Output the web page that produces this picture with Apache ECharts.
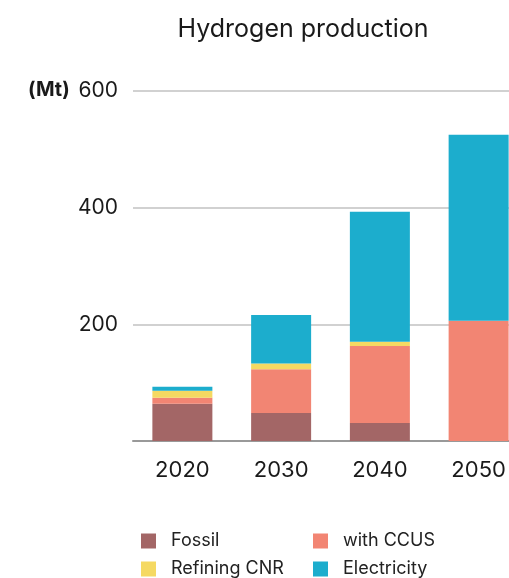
<!DOCTYPE html>
<html>
<head>
<meta charset="utf-8">
<script src="https://cdn.jsdelivr.net/npm/echarts@6/dist/echarts.min.js"></script>
<style>
  html, body { margin: 0; padding: 0; background: #fff; }
  #chart { width: 509px; height: 578px; }
</style>
</head>
<body>
<div id="chart"></div>
<script>
// Hydrogen production by route, Mt
const years = ['2020', '2030', '2040', '2050'];
const fossil = [64, 48, 31, 0];
const withCCUS = [10, 75, 132, 206];
const refiningCNR = [12, 10, 7, 0];
const electricity = [7, 83, 223, 319];
const yTicks = { min: 0, max: 600, interval: 200 };

const FONT = 'Inter, "Noto Sans", sans-serif';
const colors = {
  fossil: '#a36666',
  ccus: '#f28573',
  refining: '#f5d962',
  electricity: '#1cadcd'
};

function barSeries(name, data, color) {
  return {
    name: name,
    type: 'bar',
    stack: 'total',
    data: data,
    barWidth: 60,
    itemStyle: { color: color },
    emphasis: { disabled: true }
  };
}

// one legend entry per box so the two-column grid stays fixed
function legendItem(name, left, top) {
  return {
    left: left,
    top: top,
    data: [name],
    icon: 'rect',
    padding: 0,
    itemWidth: 15,
    itemHeight: 15,
    selectedMode: false,
    textStyle: { fontFamily: FONT, fontSize: 18, color: '#222', padding: [0, 0, 0, 10] }
  };
}

const chart = echarts.init(document.getElementById('chart'), null, { renderer: 'canvas' });
chart.setOption({
  animation: false,
  backgroundColor: '#fff',
  title: {
    text: 'Hydrogen production',
    left: 298,
    textAlign: 'center',
    top: 12,
    textStyle: { fontFamily: FONT, fontSize: 25, fontWeight: 'normal', color: '#1a1a1a' }
  },
  graphic: [{
    type: 'text',
    left: 28,
    top: 80,
    style: { text: '(Mt)', font: 'bold 20px ' + FONT, fill: '#1a1a1a' }
  }],
  legend: [
    legendItem('Fossil', 141, 532),
    legendItem('with CCUS', 313, 532),
    legendItem('Refining CNR', 141, 560),
    legendItem('Electricity', 313, 560)
  ],
  grid: { left: 133, top: 91, right: -19, bottom: 137, outerBoundsMode: 'none', containLabel: false },
  xAxis: {
    type: 'category',
    data: years,
    axisLine: { lineStyle: { color: '#999', width: 2 } },
    axisTick: { show: false },
    axisLabel: { fontFamily: FONT, fontSize: 22, color: '#1a1a1a', margin: 18 }
  },
  yAxis: {
    type: 'value',
    min: yTicks.min,
    max: yTicks.max,
    interval: yTicks.interval,
    axisLine: { show: false },
    axisTick: { show: false },
    splitLine: { lineStyle: { color: '#c2c2c2', width: 1.5 } },
    axisLabel: {
      fontFamily: FONT, fontSize: 21, color: '#1a1a1a', margin: 15,
      formatter: v => (v === 0 ? '' : String(v))
    }
  },
  series: [
    barSeries('Fossil', fossil, colors.fossil),
    barSeries('with CCUS', withCCUS, colors.ccus),
    barSeries('Refining CNR', refiningCNR, colors.refining),
    barSeries('Electricity', electricity, colors.electricity)
  ]
});
</script>
</body>
</html>
